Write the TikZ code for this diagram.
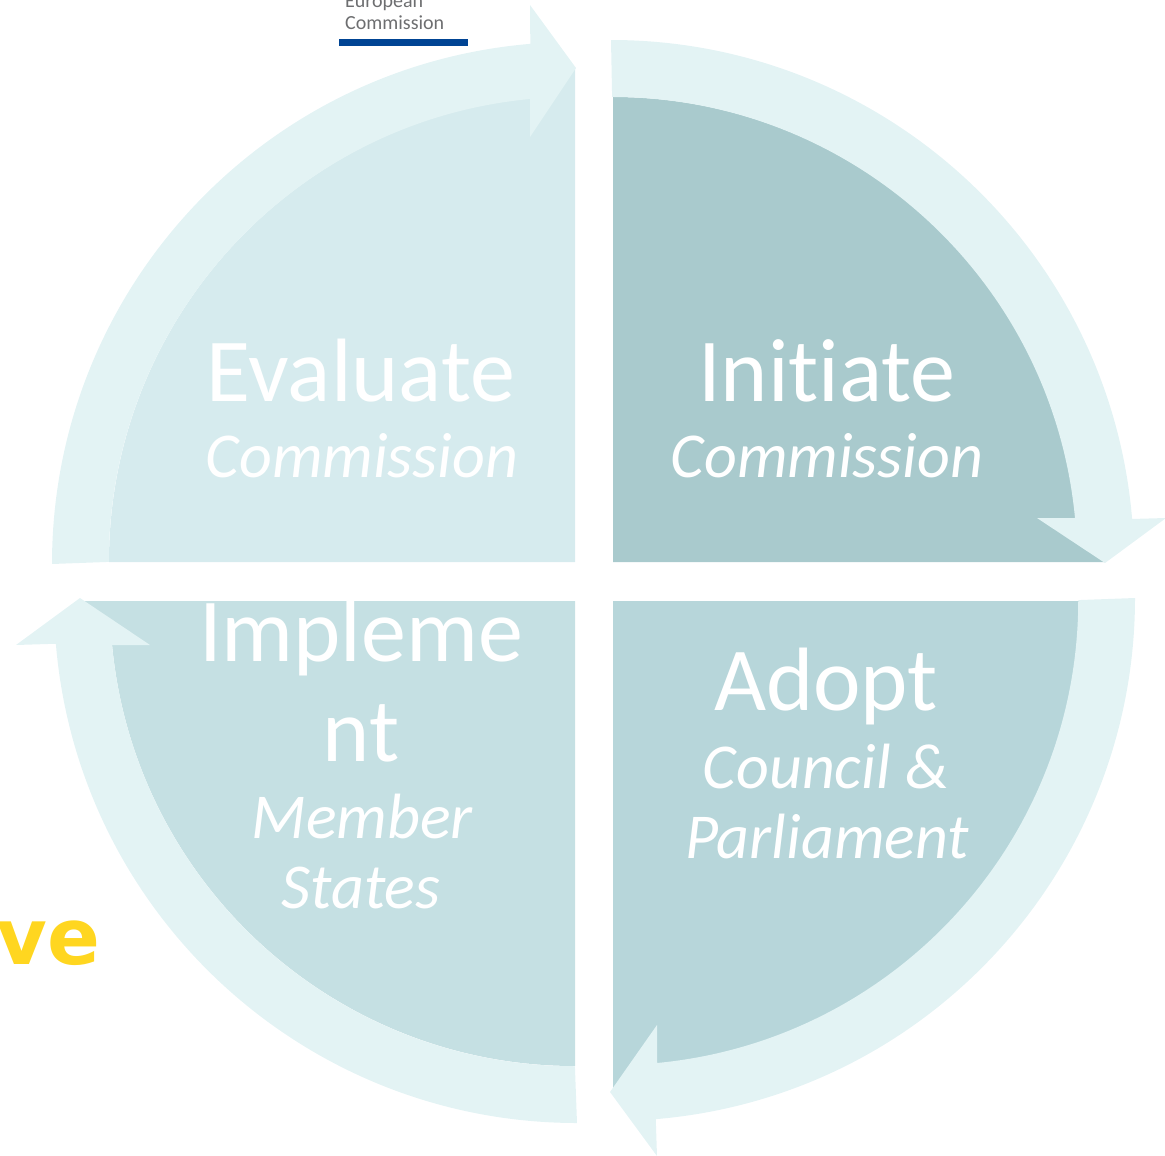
\documentclass[tikz,border=0pt]{standalone}
\usepackage{fontspec}
\setmainfont[Ligatures=NoCommon]{Carlito}
\newfontfamily\vefont{DejaVu Sans}
\definecolor{ringc}{HTML}{E3F3F4}
\definecolor{qtl}{HTML}{D6EBEE}
\definecolor{qtr}{HTML}{A9CACD}
\definecolor{qbr}{HTML}{B7D6DA}
\definecolor{qbl}{HTML}{C5E0E3}
\definecolor{euBlue}{HTML}{004494}
\definecolor{logoGrey}{HTML}{6D6E70}
\definecolor{veYellow}{HTML}{FFD620}
\tikzset{
  x=1pt,y=-1pt,
  ring/.style={fill=ringc,draw=none},
  title/.style={text=white,font=\fontsize{90}{90}\selectfont,anchor=base,inner sep=0pt},
  sub/.style={text=white,font=\fontsize{64}{64}\selectfont\itshape,anchor=base,inner sep=0pt},
  logotext/.style={text=logoGrey,font=\fontsize{20}{20}\selectfont,anchor=base west,inner sep=0pt}
}
\begin{document}
\begin{tikzpicture}
\useasboundingbox (0,0) rectangle (1165,1156);
\clip (0,0) rectangle (1165,1156);
% quadrants
\fill[qtl] (575,562) -- (109,562) arc[start angle=180,end angle=95.4,x radius=466,y radius=-466] -- (575,68) -- cycle;
\fill[qtr] (613,562) -- (613,97) arc[start angle=90,end angle=5.4,x radius=465,y radius=-465] -- (1105,562) -- cycle;
\fill[qbr] (613,601) -- (1081,601) arc[start angle=0,end angle=-85,x radius=468,y radius=-468] -- (613,1092) -- cycle;
\fill[qbl] (575,601) -- (575,1066) arc[start angle=-90,end angle=-174.6,x radius=465,y radius=-465] -- (80,601) -- cycle;
% ring arrows
\fill[ring] (611,40) arc[start angle=90,end angle=4.83,x radius=523,y radius=-523] -- (1166,518) -- (1105,563) -- (1037,518) -- (1075,518) arc[start angle=5.43,end angle=90,x radius=465,y radius=-465] -- cycle;
\fill[ring] (1135,598) arc[start angle=0,end angle=-85.2,x radius=523,y radius=-523] -- (657,1156) -- (610,1092) -- (657,1025) -- (657,1063) arc[start angle=-84.6,end angle=0,x radius=465,y radius=-465] -- cycle;
\fill[ring] (577,1123) arc[start angle=-90,end angle=-175.2,x radius=523,y radius=-523] -- (16,645) -- (80,598) -- (150,645) -- (112,645) arc[start angle=-174.6,end angle=-90,x radius=465,y radius=-465] -- cycle;
\fill[ring] (52,564) arc[start angle=180,end angle=94.8,x radius=522,y radius=-522] -- (530,5) -- (576,68) -- (530,137) -- (530,99) arc[start angle=95.4,end angle=180,x radius=465,y radius=-465] -- cycle;
% logo
\fill[euBlue] (339,39) rectangle (468,46);
\node[logotext] (logoA) at (345,8) {European};
\node[logotext] (logoB) at (345,30) {Commission};
% labels
\node[title] (evalT) at (361,401) {Evaluate};
\node[sub] (evalS) at (362,477) {Commission};
\node[title] (initT) at (827,401) {Initiate};
\node[sub] (initS) at (827,477) {Commission};
\node[title] (adoptT) at (826,710) {Adopt};
\node[sub] (adoptS1) at (826,788) {Council \&};
\node[sub] (adoptS2) at (827,858) {Parliament};
\node[title] (implA) at (361,661) {Impleme};
\node[title] (implB) at (361,761) {nt};
\node[sub] (implS1) at (362,838) {Member};
\node[sub] (implS2) at (361,908) {States};
\node[text=veYellow,font=\vefont\bfseries\fontsize{78}{78}\selectfont,anchor=base west,inner sep=0pt] (ve) at (-4,964) {ve};
\end{tikzpicture}
\end{document}
